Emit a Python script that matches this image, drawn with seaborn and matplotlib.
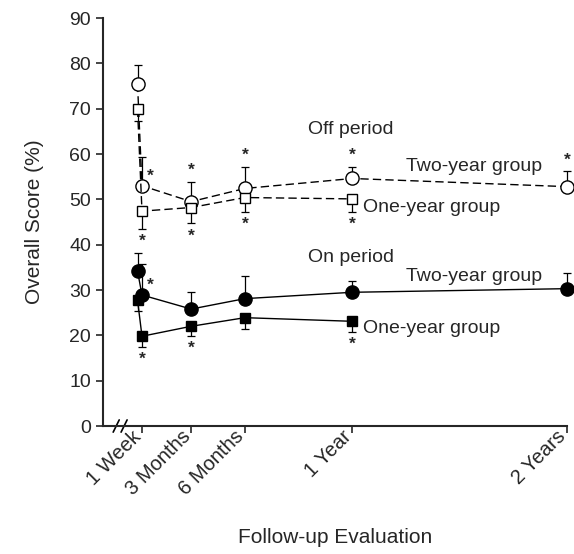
import matplotlib
matplotlib.use("Agg")
import matplotlib.pyplot as plt
import matplotlib.transforms as mtransforms
import seaborn as sns
import pandas as pd

# follow-up time in months (0 = preoperative baseline)
months_two = [0, 0.25, 3, 6, 12, 24]
months_one = [0, 0.25, 3, 6, 12]

# off period scores
off_two = [75.5, 53.0, 49.5, 52.4, 54.6, 52.8]
off_two_err = [4.1, 6.4, 4.4, 4.8, 2.6, 3.4]
off_one = [70.0, 47.4, 48.2, 50.4, 50.1]
off_one_err = [2.7, 3.9, 3.5, 3.1, 2.8]

# on period scores
on_two = [34.2, 28.9, 25.8, 28.1, 29.5, 30.3]
on_two_err = [4.0, 6.8, 3.8, 5.1, 2.4, 3.4]
on_one = [27.8, 19.8, 22.0, 23.9, 23.1]
on_one_err = [2.4, 2.3, 2.2, 2.4, 2.4]

# significance markers (*)
off_two_sig = [0, 1, 1, 1, 1, 1]
off_one_sig = [0, 1, 1, 1, 1]
on_two_sig = [0, 1, 0, 0, 0, 0]
on_one_sig = [0, 1, 1, 0, 1]

tick_months = [0.25, 3, 6, 12, 24]
tick_labels = ["1 Week", "3 Months", "6 Months", "1 Year", "2 Years"]

sns.set_style("ticks")
plt.rcParams["font.family"] = ["Liberation Sans", "DejaVu Sans"]

fig = plt.figure(figsize=(5.74, 5.54), dpi=100)
ax = fig.add_axes([0.1794, 0.2310, 0.8084, 0.7365])

series = [
    # x, y, err, sig, marker, filled, dashed, err direction
    (months_two, off_two, off_two_err, off_two_sig, "o", False, True, "up"),
    (months_one, off_one, off_one_err, off_one_sig, "s", False, True, "down"),
    (months_two, on_two, on_two_err, on_two_sig, "o", True, False, "up"),
    (months_one, on_one, on_one_err, on_one_sig, "s", True, False, "down"),
]

for x, y, err, sig, mk, filled, dashed, direction in series:
    zeros = [0] * len(err)
    yerr = [zeros, err] if direction == "up" else [err, zeros]
    ax.errorbar(x, y, yerr=yerr, fmt="none", ecolor="black", elinewidth=0.9,
                capsize=3, capthick=0.9, zorder=2, clip_on=False)
    df = pd.DataFrame({"month": x, "score": y})
    sns.lineplot(data=df, x="month", y="score", ax=ax, color="black",
                 linewidth=1.0, linestyle=(0, (6, 3)) if dashed else "-",
                 marker=mk, markersize=9.5 if mk == "o" else 7.5,
                 markerfacecolor="black" if filled else "white",
                 markeredgecolor="black", markeredgewidth=1.0,
                 zorder=3, clip_on=False)
    for xi, yi, ei, si in zip(x, y, err, sig):
        if not si:
            continue
        if direction == "up" and xi == 0.25:
            ax.annotate("*", xy=(xi, yi), xytext=(6, 7), textcoords="offset points",
                        ha="center", va="center", fontsize=12.5, fontweight="bold")
        elif direction == "up":
            ax.annotate("*", xy=(xi, yi + ei), xytext=(0, 8), textcoords="offset points",
                        ha="center", va="center", fontsize=12.5, fontweight="bold")
        else:
            ax.annotate("*", xy=(xi, yi - ei), xytext=(0, -9), textcoords="offset points",
                        ha="center", va="center", fontsize=12.5, fontweight="bold")

# group labels
ax.text(9.5, 65.3, "Off period", fontsize=14, va="center")
ax.text(15.0, 57.2, "Two-year group", fontsize=14, va="center")
ax.text(12.6, 48.3, "One-year group", fontsize=14, va="center")
ax.text(9.5, 37.1, "On period", fontsize=14, va="center")
ax.text(15.0, 32.9, "Two-year group", fontsize=14, va="center")
ax.text(12.6, 21.6, "One-year group", fontsize=14, va="center")

ax.set_xlim(-1.93, 24)
ax.set_ylim(0, 90)
ax.set_yticks(range(0, 91, 10))
ax.set_xticks(tick_months)
ax.set_xticklabels(tick_labels, rotation=45, ha="right", va="baseline",
                   rotation_mode="anchor")
shift = mtransforms.ScaledTranslation(3 / 72, -9 / 72, fig.dpi_scale_trans)
for lab in ax.get_xticklabels():
    lab.set_transform(lab.get_transform() + shift)
ax.tick_params(axis="both", labelsize=14, width=1.2, length=5, direction="out")
ax.tick_params(axis="x", labelsize=14.5)
ax.set_xlabel("Follow-up Evaluation", fontsize=15, labelpad=21)
ax.set_ylabel("Overall Score (%)", fontsize=15, labelpad=18)
sns.despine(ax=ax)
for side in ["left", "bottom"]:
    ax.spines[side].set_linewidth(1.5)

# axis break marks
for x0 in [0.022, 0.039]:
    ax.plot([x0, x0 + 0.013], [-0.015, 0.015], transform=ax.transAxes,
            color="black", linewidth=1.2, clip_on=False)

fig.savefig("out.png", dpi=100)
